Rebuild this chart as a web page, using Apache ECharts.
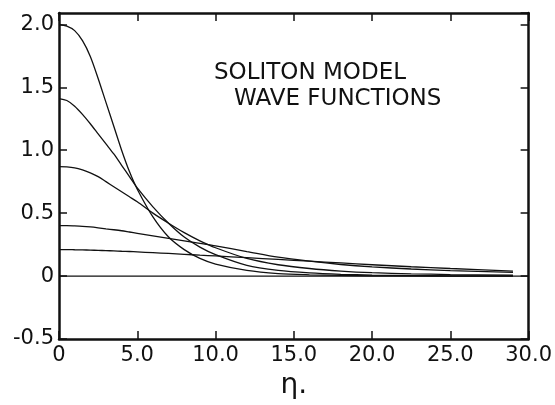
<!DOCTYPE html>
<html>
<head>
<meta charset="utf-8">
<script src="https://cdn.jsdelivr.net/npm/echarts@6/dist/echarts.min.js"></script>
<style>
  html, body { margin: 0; padding: 0; background: #fff; }
  #main { width: 555px; height: 405px; }
</style>
</head>
<body>
<div id="main"></div>
<script>
// 读图得到的数据 (eta, psi)
var etaPts = [0, 0.5, 1, 1.5, 2, 2.5, 3, 3.5, 4, 4.5, 5, 6, 7, 8, 9, 10, 12, 14, 16, 18, 20, 22.5, 25, 29];
var psiA = [2.00, 1.985, 1.95, 1.87, 1.745, 1.57, 1.38, 1.19, 1.00, 0.83, 0.69, 0.47, 0.31, 0.21, 0.14, 0.095, 0.045, 0.02, 0.01, 0.005, 0.002, 0.001, 0, 0];
var psiB = [1.41, 1.395, 1.35, 1.285, 1.21, 1.13, 1.05, 0.97, 0.88, 0.79, 0.70, 0.55, 0.42, 0.31, 0.23, 0.17, 0.085, 0.045, 0.025, 0.014, 0.008, 0.004, 0.002, 0.001];
var psiC = [0.87, 0.868, 0.86, 0.843, 0.82, 0.79, 0.75, 0.71, 0.67, 0.63, 0.59, 0.50, 0.42, 0.345, 0.28, 0.225, 0.14, 0.09, 0.06, 0.04, 0.027, 0.018, 0.012, 0.007];
var psiD = [0.40, 0.40, 0.398, 0.395, 0.39, 0.383, 0.375, 0.368, 0.36, 0.35, 0.34, 0.32, 0.30, 0.28, 0.26, 0.24, 0.195, 0.15, 0.118, 0.092, 0.073, 0.056, 0.043, 0.03];
var psiE = [0.21, 0.21, 0.209, 0.208, 0.206, 0.204, 0.202, 0.20, 0.197, 0.195, 0.192, 0.186, 0.18, 0.173, 0.166, 0.16, 0.146, 0.132, 0.118, 0.104, 0.09, 0.074, 0.06, 0.04];
var zeroLine = [[0, 0], [30, 0]];

var xTicks = [0, 5, 10, 15, 20, 25, 30];
var xTickLabels = ['0', '5.0', '10.0', '15.0', '20.0', '25.0', '30.0'];
var yTicks = [-0.5, 0, 0.5, 1.0, 1.5, 2.0];
var yTickLabels = ['-0.5', '0', '0.5', '1.0', '1.5', '2.0'];

var titleLines = ['SOLITON MODEL', 'WAVE FUNCTIONS'];

var myChart = echarts.init(document.getElementById('main'));
var font = 'DejaVu Sans';
var ink = '#111';

function pair(ys) {
    return etaPts.map(function (x, i) { return [x, ys[i]]; });
}
function lookup(ticks, labels, v) {
    for (var i = 0; i < ticks.length; i++) {
        if (Math.abs(ticks[i] - v) < 1e-6) return labels[i];
    }
    return '';
}

var axisLine = { show: true, onZero: false, lineStyle: { color: ink, width: 2.5 } };
var tick = { show: true, inside: true, length: 8, lineStyle: { color: ink, width: 1.5 } };

function curve(ys) {
    return {
        type: 'line',
        data: pair(ys),
        smooth: 0.3,
        showSymbol: false,
        silent: true,
        lineStyle: { color: ink, width: 1.3 }
    };
}

option = {
    animation: false,
    backgroundColor: '#fff',
    grid: { left: 59, right: 21, top: 13, bottom: 59 },
    xAxis: [{
        type: 'value',
        min: 0, max: 30, interval: 5,
        position: 'bottom',
        axisLine: axisLine,
        axisTick: tick,
        splitLine: { show: false },
        axisLabel: {
            color: ink, fontFamily: font, fontSize: 21, margin: 6,
            formatter: function (v) { return lookup(xTicks, xTickLabels, v); }
        },
        name: 'η.',
        nameLocation: 'middle',
        nameGap: 33,
        nameTextStyle: { color: ink, fontFamily: font, fontSize: 28 }
    }, {
        type: 'value',
        min: 0, max: 30, interval: 5,
        position: 'top',
        axisLine: axisLine,
        axisTick: tick,
        axisLabel: { show: false },
        splitLine: { show: false }
    }],
    yAxis: [{
        type: 'value',
        min: -0.5, max: 2.09, interval: 0.5,
        position: 'left',
        axisLine: axisLine,
        axisTick: tick,
        splitLine: { show: false },
        axisLabel: {
            color: ink, fontFamily: font, fontSize: 21, margin: 5,
            showMaxLabel: false,
            formatter: function (v) { return lookup(yTicks, yTickLabels, v); }
        }
    }, {
        type: 'value',
        min: -0.5, max: 2.09, interval: 0.5,
        position: 'right',
        axisLine: axisLine,
        axisTick: tick,
        axisLabel: { show: false },
        splitLine: { show: false }
    }],
    graphic: [{
        type: 'text', left: 214, top: 62,
        style: { text: titleLines[0], fill: ink, font: '23px "DejaVu Sans"' }
    }, {
        type: 'text', left: 234, top: 88,
        style: { text: titleLines[1], fill: ink, font: '23px "DejaVu Sans"' }
    }],
    series: [
        curve(psiA), curve(psiB), curve(psiC), curve(psiD), curve(psiE),
        {
            type: 'line', data: zeroLine, showSymbol: false, silent: true,
            lineStyle: { color: ink, width: 1.2 }
        }
    ]
};
myChart.setOption(option);
</script>
</body>
</html>
